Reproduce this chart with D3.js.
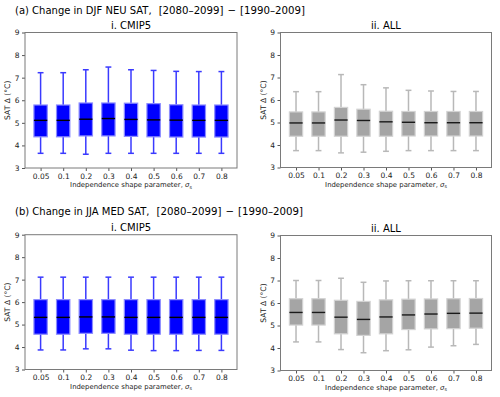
<meta charset="utf-8">
<body style="margin:0;background:#fff">
<script src="https://cdn.jsdelivr.net/npm/d3@7"></script>
<script type="text/javascript">

    var width  = 500,
        height = 397;

    // independence shape parameter values (x categories)
    var sigmas = ["0.05", "0.1", "0.2", "0.3", "0.4", "0.5", "0.6", "0.7", "0.8"];
    var yTicks = [3, 4, 5, 6, 7, 8, 9];

    // (a) DJF NEU, CMIP5
    var aCmipLow  = [3.65, 3.65, 3.61, 3.65, 3.65, 3.65, 3.65, 3.65, 3.65];
    var aCmipQ1   = [4.38, 4.38, 4.42, 4.42, 4.40, 4.38, 4.37, 4.37, 4.37];
    var aCmipMed  = [5.11, 5.11, 5.16, 5.19, 5.15, 5.13, 5.12, 5.11, 5.11];
    var aCmipQ3   = [5.79, 5.79, 5.88, 5.88, 5.87, 5.85, 5.80, 5.79, 5.79];
    var aCmipHigh = [7.22, 7.22, 7.35, 7.47, 7.35, 7.32, 7.28, 7.27, 7.27];

    // (a) DJF NEU, ALL
    var aAllLow  = [3.75, 3.75, 3.65, 3.68, 3.72, 3.75, 3.75, 3.75, 3.75];
    var aAllQ1   = [4.39, 4.39, 4.39, 4.39, 4.39, 4.40, 4.40, 4.40, 4.40];
    var aAllMed  = [4.98, 4.98, 5.11, 5.09, 5.03, 5.01, 4.99, 4.99, 4.99];
    var aAllQ3   = [5.47, 5.47, 5.67, 5.59, 5.50, 5.49, 5.49, 5.49, 5.49];
    var aAllHigh = [6.37, 6.37, 7.13, 6.68, 6.54, 6.43, 6.40, 6.38, 6.38];

    // (b) JJA MED, CMIP5
    var bCmipLow  = [3.87, 3.87, 3.92, 3.92, 3.86, 3.84, 3.84, 3.85, 3.85];
    var bCmipQ1   = [4.57, 4.57, 4.61, 4.61, 4.57, 4.57, 4.57, 4.57, 4.57];
    var bCmipMed  = [5.32, 5.32, 5.34, 5.34, 5.32, 5.32, 5.32, 5.32, 5.32];
    var bCmipQ3   = [6.11, 6.11, 6.11, 6.11, 6.11, 6.11, 6.11, 6.11, 6.11];
    var bCmipHigh = [7.11, 7.11, 7.11, 7.11, 7.11, 7.11, 7.11, 7.11, 7.11];

    // (b) JJA MED, ALL
    var bAllLow  = [4.27, 4.27, 3.93, 3.79, 3.88, 3.92, 4.04, 4.10, 4.16];
    var bAllQ1   = [5.02, 5.02, 4.63, 4.56, 4.63, 4.82, 4.85, 4.86, 4.88];
    var bAllMed  = [5.58, 5.58, 5.37, 5.27, 5.38, 5.47, 5.51, 5.54, 5.55];
    var bAllQ3   = [6.19, 6.19, 6.12, 6.07, 6.14, 6.17, 6.18, 6.19, 6.20];
    var bAllHigh = [7.00, 7.00, 7.10, 6.92, 6.98, 6.99, 6.99, 6.99, 6.99];

    var font = "DejaVu Sans, sans-serif";

    var svg = d3.select("body")
                .append("svg")
                .attr("width", width)
                .attr("height", height)
                .style("font-family", font);

    function boxes(low, q1, med, q3, high) {
        return sigmas.map(function (s, i) {
            return {s: s, low: low[i], q1: q1[i], med: med[i], q3: q3[i], high: high[i]};
        });
    }

    var cmipStyle = {fill: "#0000ff", edge: "#8c8cff", whisker: "#3a3aff", median: "#000"};
    var allStyle  = {fill: "#a5a5a5", edge: "#d2d2d2", whisker: "#b8b8b8", median: "#1a1a1a"};

    var panels = [
        {sub: "i. CMIP5", x0: 25,    x1: 237,   y0: 32.5,  y1: 168,   style: cmipStyle,
         data: boxes(aCmipLow, aCmipQ1, aCmipMed, aCmipQ3, aCmipHigh)},
        {sub: "ii. ALL",  x0: 280.5, x1: 491.5, y0: 32.5,  y1: 167.5, style: allStyle,
         data: boxes(aAllLow, aAllQ1, aAllMed, aAllQ3, aAllHigh)},
        {sub: "i. CMIP5", x0: 25,    x1: 237,   y0: 234.7, y1: 369.5, style: cmipStyle,
         data: boxes(bCmipLow, bCmipQ1, bCmipMed, bCmipQ3, bCmipHigh)},
        {sub: "ii. ALL",  x0: 280.5, x1: 491.5, y0: 235.5, y1: 370.5, style: allStyle,
         data: boxes(bAllLow, bAllQ1, bAllMed, bAllQ3, bAllHigh)}
    ];

    // row titles: plain part + bracketed period part
    var titles = [
        {y: 14,  text: "(a) Change in DJF NEU SAT,", period: ["[2080\u20132099]", "\u2212", "[1990\u20132009]"]},
        {y: 215, text: "(b) Change in JJA MED SAT,", period: ["[2080\u20132099]", "\u2212", "[1990\u20132009]"]}
    ];

    var t = svg.selectAll(".title")
               .data(titles)
               .enter()
               .append("text")
               .attr("class", "title")
               .attr("x", 15)
               .attr("y", function (d) { return d.y; })
               .style("font-size", "10px");

    t.append("tspan")
     .text(function (d) { return d.text; });

    t.append("tspan")
     .attr("dx", 7)
     .style("font-size", "10.2px")
     .text(function (d) { return d.period[0]; });

    t.append("tspan")
     .attr("dx", 4)
     .style("font-size", "10.2px")
     .text(function (d) { return d.period[1]; });

    t.append("tspan")
     .attr("dx", 4)
     .style("font-size", "10.2px")
     .text(function (d) { return d.period[2]; });

    panels.forEach(function (p) {

        var x = d3.scalePoint()
                  .domain(sigmas)
                  .range([p.x0, p.x1])
                  .padding(0.69);

        var y = d3.scaleLinear()
                  .domain([3, 9])
                  .range([p.y1, p.y0]);

        var bw = x.step() * 0.59,
            cw = x.step() * 0.26;

        var g = svg.append("g");

        g.append("text")
         .attr("x", (p.x0 + p.x1) / 2)
         .attr("y", p.y0 - 4)
         .attr("text-anchor", "middle")
         .style("font-size", "10px")
         .text(p.sub);

        // axes
        var xAxis = g.append("g")
                     .attr("transform", "translate(0," + p.y1 + ")")
                     .call(d3.axisBottom(x).tickSize(3).tickPadding(2.5));

        var yAxis = g.append("g")
                     .attr("transform", "translate(" + p.x0 + ",0)")
                     .call(d3.axisLeft(y).tickValues(yTicks).tickFormat(d3.format("d")).tickSize(3).tickPadding(2.5));

        [xAxis, yAxis].forEach(function (a) {
            a.select(".domain").remove();
            a.selectAll("line").attr("stroke", "#555");
            a.selectAll("text").style("font-size", "7.5px").style("font-family", font).attr("fill", "#222");
        });

        g.append("rect")
         .attr("x", p.x0)
         .attr("y", p.y0)
         .attr("width", p.x1 - p.x0)
         .attr("height", p.y1 - p.y0)
         .attr("fill", "none")
         .attr("stroke", "#7a7a7a")
         .attr("stroke-width", 1);

        g.append("text")
         .attr("x", (p.x0 + p.x1) / 2)
         .attr("y", p.y1 + 19)
         .attr("text-anchor", "middle")
         .style("font-size", "6.9px")
         .attr("fill", "#222")
         .html("Independence shape parameter, <tspan font-style='italic'>\u03c3</tspan><tspan font-size='4.8px' dy='1.5'>s</tspan>");

        g.append("text")
         .attr("transform", "translate(" + (p.x0 - 15) + "," + ((p.y0 + p.y1) / 2) + ") rotate(-90)")
         .attr("text-anchor", "middle")
         .style("font-size", "7.6px")
         .attr("fill", "#222")
         .text("SAT \u0394 (\u00b0C)");

        var b = g.selectAll(".box")
                 .data(p.data)
                 .enter()
                 .append("g")
                 .attr("class", "box");

        // whiskers
        b.append("line")
         .attr("x1", function (d) { return x(d.s); })
         .attr("x2", function (d) { return x(d.s); })
         .attr("y1", function (d) { return y(d.high); })
         .attr("y2", function (d) { return y(d.low); })
         .attr("stroke", p.style.whisker)
         .attr("stroke-width", 1.5);

        ["high", "low"].forEach(function (k) {
            b.append("line")
             .attr("x1", function (d) { return x(d.s) - cw / 2; })
             .attr("x2", function (d) { return x(d.s) + cw / 2; })
             .attr("y1", function (d) { return y(d[k]); })
             .attr("y2", function (d) { return y(d[k]); })
             .attr("stroke", p.style.whisker)
             .attr("stroke-width", 1.5);
        });

        b.append("rect")
         .attr("x", function (d) { return x(d.s) - bw / 2; })
         .attr("y", function (d) { return y(d.q3); })
         .attr("width", bw)
         .attr("height", function (d) { return y(d.q1) - y(d.q3); })
         .attr("fill", p.style.fill)
         .attr("stroke", p.style.edge)
         .attr("stroke-width", 1.2);

        b.append("line")
         .attr("x1", function (d) { return x(d.s) - bw / 2; })
         .attr("x2", function (d) { return x(d.s) + bw / 2; })
         .attr("y1", function (d) { return y(d.med); })
         .attr("y2", function (d) { return y(d.med); })
         .attr("stroke", p.style.median)
         .attr("stroke-width", 1.4);
    });

</script>
</body>
